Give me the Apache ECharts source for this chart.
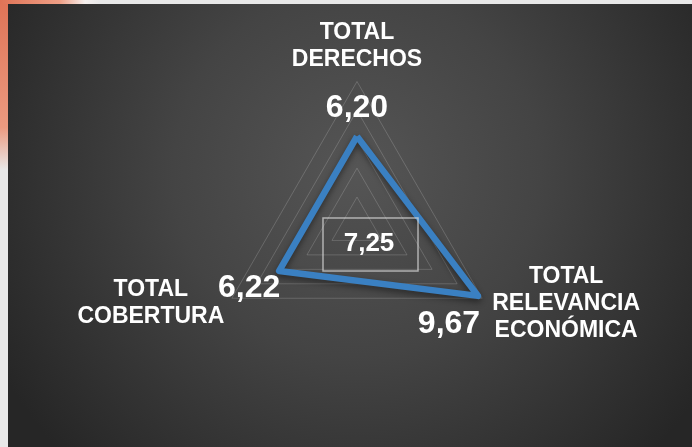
<!DOCTYPE html>
<html>
<head>
<meta charset="utf-8">
<script src="https://cdn.jsdelivr.net/npm/echarts@6/dist/echarts.min.js"></script>
<style>
  html, body { margin: 0; padding: 0; background: #e8e8e8; }
  #chart { width: 692px; height: 447px; }
</style>
</head>
<body>
<div id="chart"></div>
<script>
// datos del gráfico
const indicadores = ['TOTAL\nDERECHOS', 'TOTAL\nCOBERTURA', 'TOTAL\nRELEVANCIA\nECONÓMICA'];
const valores = [6.20, 6.22, 9.67];
const maximo = 10;
const promedio = 7.25;

const fmt = v => v.toFixed(2).replace('.', ',');
const fuente = '"Liberation Sans", Arial, sans-serif';
const chart = echarts.init(document.getElementById('chart'));

chart.setOption({
  backgroundColor: '#e8e8e8',
  radar: {
    center: [357, 226],
    radius: 144.5,
    shape: 'polygon',
    splitNumber: 5,
    indicator: indicadores.map(n => ({ name: n, min: 0, max: maximo })),
    axisName: { show: false },
    axisLine: { show: false },
    axisTick: { show: false },
    splitArea: { show: false },
    splitLine: { lineStyle: { color: 'rgba(255,255,255,0.17)', width: 1 } }
  },
  series: [{
    type: 'radar',
    symbol: 'none',
    silent: true,
    z: 5,
    lineStyle: {
      color: '#3a80c2', width: 6.5, join: 'round',
      shadowBlur: 6, shadowColor: 'rgba(0,0,0,0.45)', shadowOffsetY: 3
    },
    data: [{ value: valores }]
  }]
});

// posiciones desde el sistema de coordenadas del radar
const radarCS = chart.getModel().getComponent('radar').coordinateSystem;
const pt = (v, i) => radarCS.dataToPoint(v, i);

// desplazamientos de etiquetas respecto al vértice
const nombreOff = [[0, -35], [-81, 5], [84, 5]];
const valorOff = [[0, -28], [-30, 17], [-29, 28]];

const textos = [];
indicadores.forEach((n, i) => {
  const p = pt(maximo, i);
  textos.push({
    type: 'text', z: 100,
    x: p[0] + nombreOff[i][0], y: p[1] + nombreOff[i][1],
    style: {
      text: n, fill: '#fff', font: 'bold 23px ' + fuente,
      align: 'center', verticalAlign: 'middle', lineHeight: 27
    }
  });
});
valores.forEach((v, i) => {
  const p = pt(v, i);
  textos.push({
    type: 'text', z: 100,
    x: p[0] + valorOff[i][0], y: p[1] + valorOff[i][1],
    style: {
      text: fmt(v), fill: '#fff', font: 'bold 32px ' + fuente,
      align: 'center', verticalAlign: 'middle'
    }
  });
});

chart.setOption({
  graphic: [
    {
      type: 'rect', z: -10, silent: true,
      shape: { x: 0, y: 0, width: 8, height: 170 },
      style: { fill: new echarts.graphic.LinearGradient(0, 0, 0, 1, [
        { offset: 0, color: '#df7356' }, { offset: 0.75, color: '#eb9a80' }, { offset: 1, color: '#e8e8e8' }
      ]) }
    },
    {
      type: 'rect', z: -10, silent: true,
      shape: { x: 0, y: 0, width: 100, height: 4 },
      style: { fill: new echarts.graphic.LinearGradient(0, 0, 1, 0, [
        { offset: 0, color: '#df7356' }, { offset: 0.6, color: '#ef9f86' }, { offset: 0.85, color: '#f6f0ee' }, { offset: 1, color: '#e8e8e8' }
      ]) }
    },
    {
      type: 'rect', z: -10, silent: true,
      shape: { x: 8, y: 4, width: 684, height: 443 },
      style: { fill: new echarts.graphic.RadialGradient(0.51, 0.38, 0.92, [
        { offset: 0, color: '#555555' }, { offset: 0.45, color: '#444444' }, { offset: 1, color: '#262626' }
      ]) }
    },
    {
      type: 'rect', z: 50, silent: true,
      shape: { x: 323, y: 218, width: 95, height: 53 },
      style: { fill: 'rgba(0,0,0,0.03)', stroke: 'rgba(220,220,220,0.7)', lineWidth: 1.5 }
    },
    {
      type: 'text', z: 100, silent: true,
      x: 369, y: 244,
      style: { text: fmt(promedio), fill: '#fff', font: 'bold 26px ' + fuente, align: 'center', verticalAlign: 'middle' }
    }
  ].concat(textos)
});
</script>
</body>
</html>
